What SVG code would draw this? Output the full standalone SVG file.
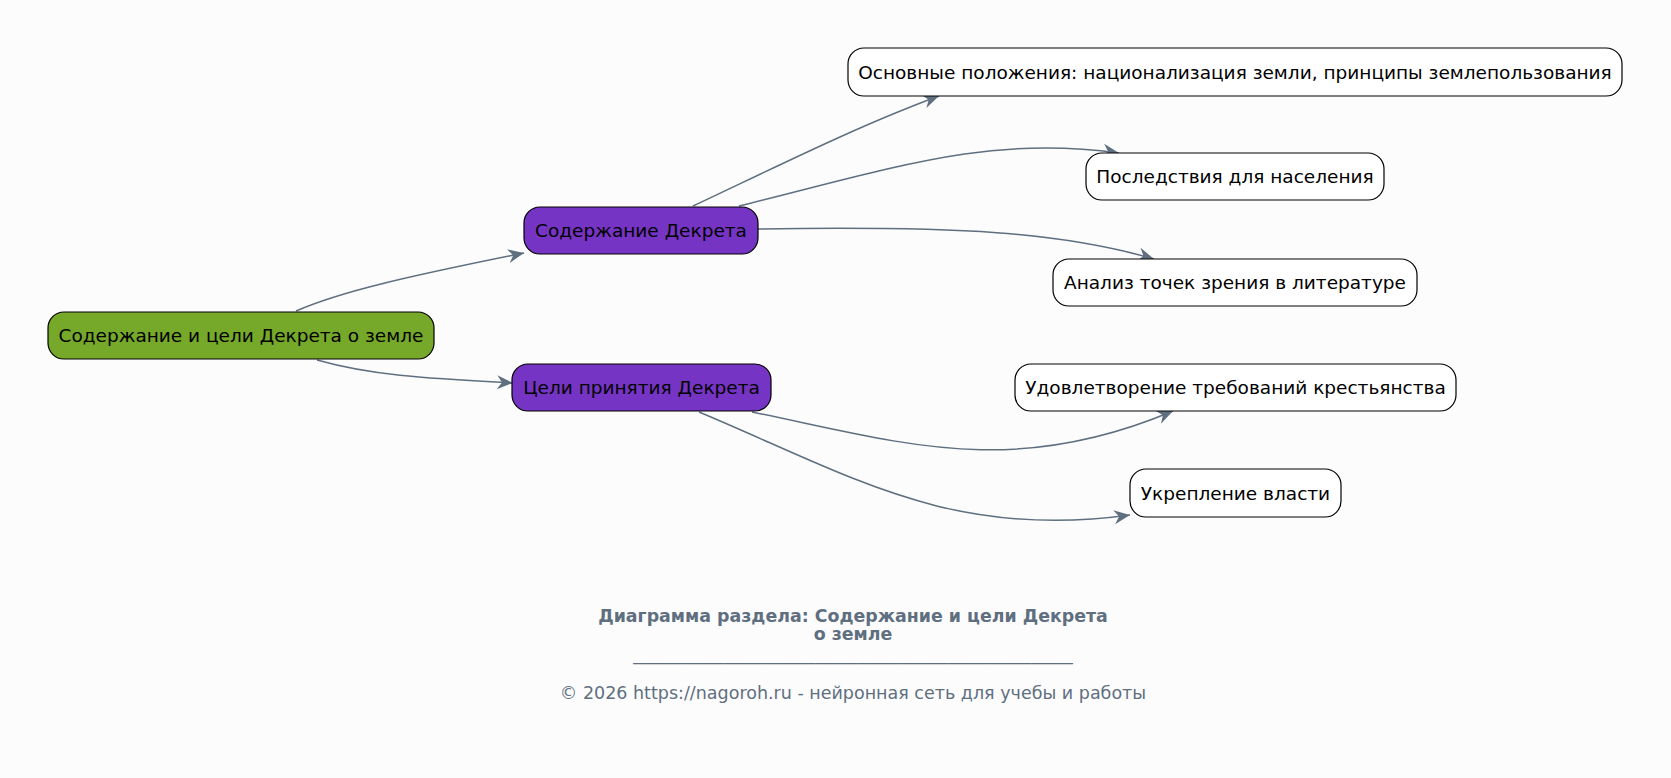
<svg xmlns="http://www.w3.org/2000/svg" width="1671" height="778" viewBox="0 0 1671 778">
<defs>
<style>
.bg{fill:#fcfcfd}
.node rect{stroke:#000;stroke-width:1.2}
.root rect{fill:#76a82a}
.mid rect{fill:#7634c4}
.leaf rect{fill:#ffffff}
.node text{font-family:"DejaVu Sans",sans-serif;font-size:18.5px;fill:#000;text-anchor:middle;dominant-baseline:central}
.edges path{fill:none;stroke:#5f6f7f;stroke-width:1.5}
.ft{font-family:"DejaVu Sans",sans-serif;fill:#5f6f7f;text-anchor:middle}
.ttl{font-size:17.4px;font-weight:bold}
.cp{font-size:17.5px}
.ln{font-size:16.6px}
</style>
<marker id="ah" markerUnits="userSpaceOnUse" markerWidth="22" markerHeight="20" refX="17" refY="8" orient="auto">
<path d="M1,1 L17,8 L1,15 L6,8 z" fill="#5f6f7f" stroke="none"/>
</marker>
</defs>
<rect class="bg" x="0" y="0" width="1671" height="778"/>
<g class="edges">
<path d="M296,311 C340,292 400,278 524,253" marker-end="url(#ah)"/>
<path d="M317,360 C370,375 420,378 513,383" marker-end="url(#ah)"/>
<path d="M693,206 C780,165 860,125 939,96" marker-end="url(#ah)"/>
<path d="M739,206 C900,166 990,135 1119,153" marker-end="url(#ah)"/>
<path d="M758,229 C960,226 1060,232 1154,259" marker-end="url(#ah)"/>
<path d="M752,412 C900,442 1010,480 1173,411" marker-end="url(#ah)"/>
<path d="M699,412 C850,475 950,540 1130,515" marker-end="url(#ah)"/>
</g>
<g id="n0" class="node root"><rect x="48" y="312" width="386" height="47" rx="16"/><text x="241" y="335.5">Содержание и цели Декрета о земле</text></g>
<g id="n1" class="node mid"><rect x="524" y="207" width="234" height="47" rx="16"/><text x="641" y="230.5">Содержание Декрета</text></g>
<g id="n2" class="node mid"><rect x="512" y="364" width="259" height="47" rx="16"/><text x="641.5" y="387.5">Цели принятия Декрета</text></g>
<g id="n3" class="node leaf"><rect x="848" y="48" width="774" height="48" rx="16"/><text x="1235" y="72">Основные положения: национализация земли, принципы землепользования</text></g>
<g id="n4" class="node leaf"><rect x="1086" y="153" width="298" height="47" rx="16"/><text x="1235" y="176.5">Последствия для населения</text></g>
<g id="n5" class="node leaf"><rect x="1053" y="259" width="364" height="47" rx="16"/><text x="1235" y="282.5">Анализ точек зрения в литературе</text></g>
<g id="n6" class="node leaf"><rect x="1015" y="364" width="441" height="47" rx="16"/><text x="1235.5" y="387.5">Удовлетворение требований крестьянства</text></g>
<g id="n7" class="node leaf"><rect x="1130" y="469" width="211" height="48" rx="16"/><text x="1235.5" y="493">Укрепление власти</text></g>
<g id="footer">
<text class="ft ttl" x="853" y="622">Диаграмма раздела: Содержание и цели Декрета</text>
<text class="ft ttl" x="853" y="640">о земле</text>
<text class="ft ln" x="853" y="660">_____________________________________________________</text>
<text class="ft cp" x="853" y="699">© 2026 https://nagoroh.ru - нейронная сеть для учебы и работы</text>
</g>
</svg>
